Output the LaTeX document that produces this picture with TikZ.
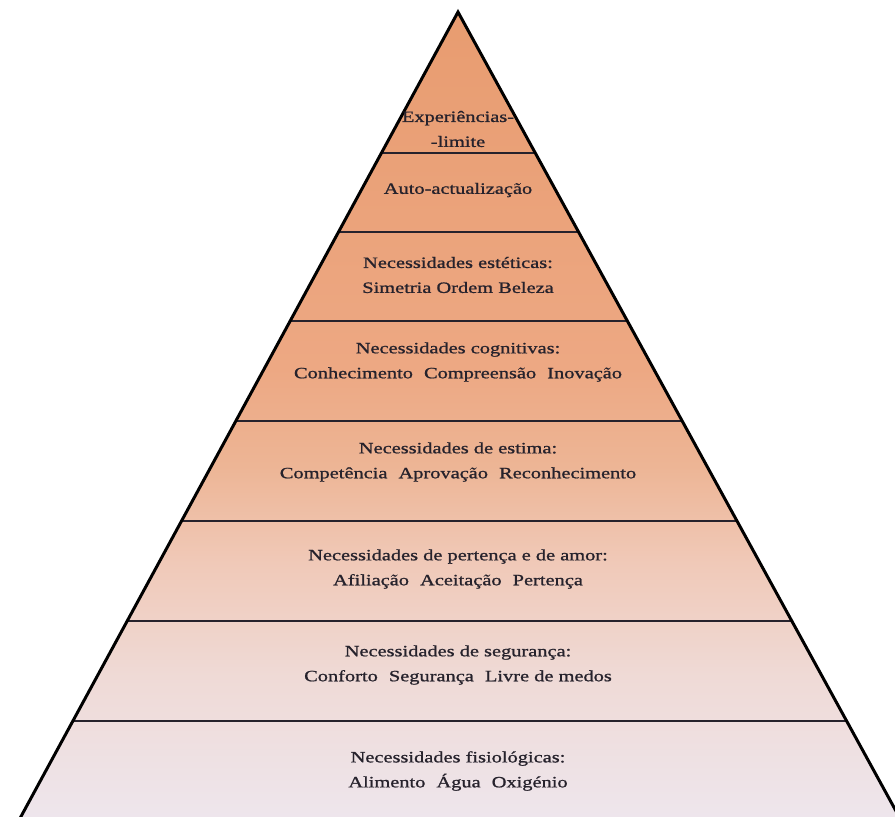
\documentclass[tikz,border=0pt]{standalone}
\usepackage{fontspec}
\setmainfont{Liberation Serif}[FakeStretch=1.29, FakeBold=1]
\usetikzlibrary{calc}
\definecolor{mhtop}  {RGB}{232,156,112}
\definecolor{mhcogn} {RGB}{237,168,131}
\definecolor{mhest}  {RGB}{237,181,149}
\definecolor{mhbel}  {RGB}{240,201,184}
\definecolor{mhsaf}  {RGB}{239,218,214}
\definecolor{mhbot}  {RGB}{238,230,237}
\definecolor{mhink}  {RGB}{38,34,44}
\pgfdeclareverticalshading{mhfade}{100bp}{color(0bp)=(mhbot); color(25bp)=(mhbot);
  color(34bp)=(mhsaf); color(41bp)=(mhbel); color(47bp)=(mhest);
  color(53bp)=(mhcogn); color(75bp)=(mhtop); color(100bp)=(mhtop)}
\newcommand{\itemgap}{\hspace{0.7em}}
\tikzset{
  lvllabel/.style={align=center, text=mhink, inner sep=0pt,
    font=\fontsize{9}{14.2}\selectfont},
  lvlline/.style={draw=mhink, line width=1.1pt},
}

\begin{document}
\begin{tikzpicture}[x=0.02cm, y=-0.02cm]
            \useasboundingbox (0,0) rectangle (895,816);

            % corners
            \coordinate (apex) at(458,12);
            \coordinate (bl)   at(18,822);
            \coordinate (br)   at(902,822);

            % body
            \path [shading=mhfade]
              (apex) -- (bl) -- (br) -- cycle;

            % level separators
            \foreach \y in {153,232,321,421,521,621,721}
              \draw [lvlline]
                ($(apex)!{(\y-12)/810}!(bl)$) -- ($(apex)!{(\y-12)/810}!(br)$);

            % sides
            \draw [black, line width=1.7pt, line join=miter]
              (bl) -- (apex) -- (br);

            % levels
            \node (limit) [lvllabel] at(458,129)
              {Experiências-\\-limite};
            \node (self)  [lvllabel] at(458,190)
              {Auto-actualização};
            \node (aesth) [lvllabel] at(458,275)
              {Necessidades estéticas:\\Simetria Ordem Beleza};
            \node (cogn)  [lvllabel] at(458,362)
              {Necessidades cognitivas:\\Conhecimento\itemgap Compreensão\itemgap Inovação};
            \node (esteem) [lvllabel] at(458,462)
              {Necessidades de estima:\\Competência\itemgap Aprovação\itemgap Reconhecimento};
            \node (belong) [lvllabel] at(458,569)
              {Necessidades de pertença e de amor:\\Afiliação\itemgap Aceitação\itemgap Pertença};
            \node (safety) [lvllabel] at(458,665)
              {Necessidades de segurança:\\Conforto\itemgap Segurança\itemgap Livre de medos};
            \node (physio) [lvllabel] at(458,771)
              {Necessidades fisiológicas:\\Alimento\itemgap Água\itemgap Oxigénio};
\end{tikzpicture}
\end{document}
